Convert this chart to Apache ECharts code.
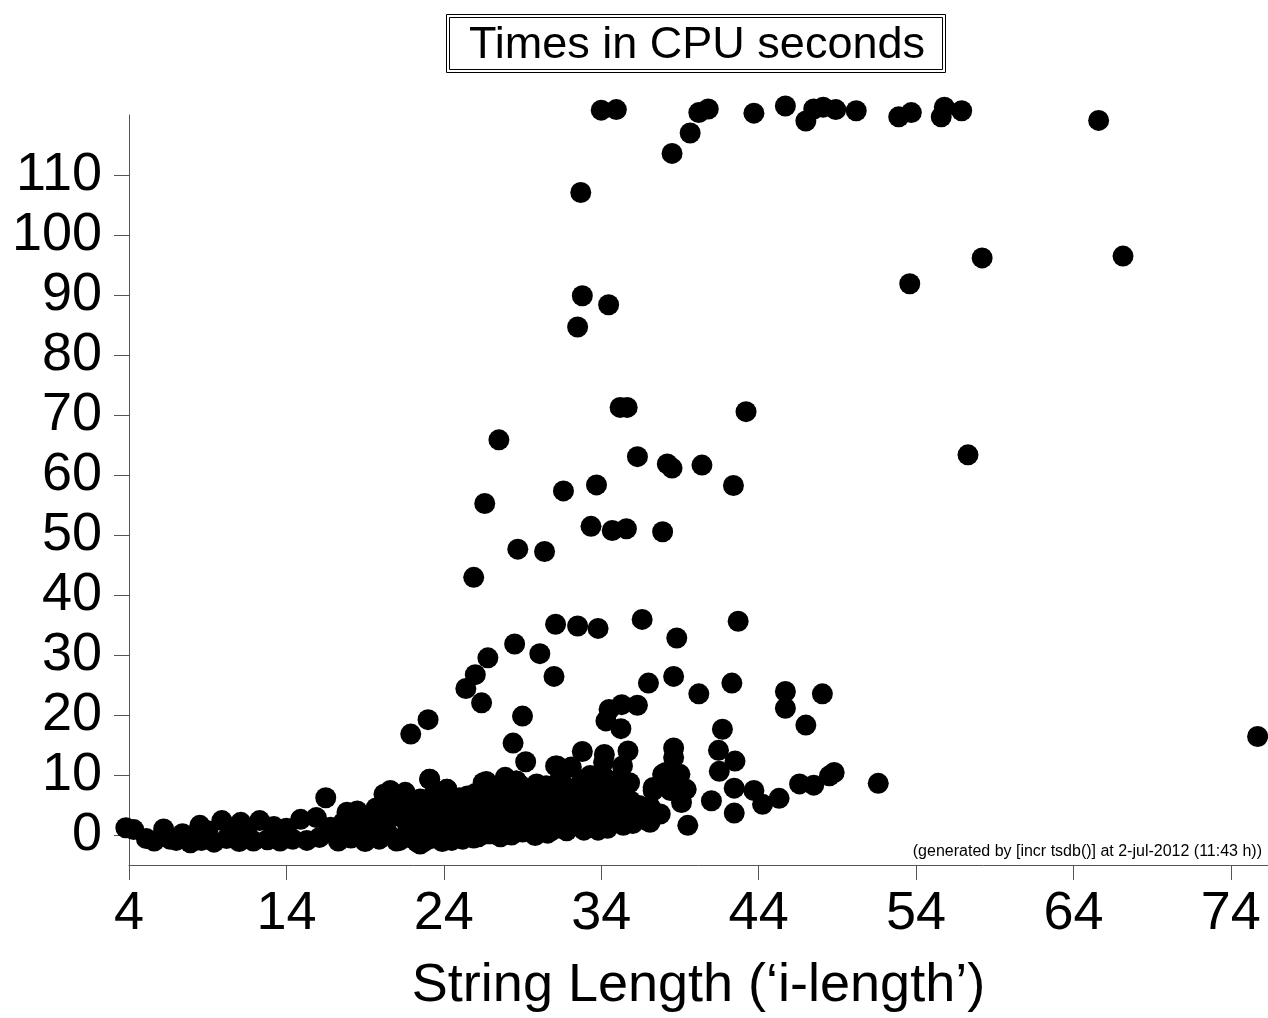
<!DOCTYPE html>
<html>
<head>
<meta charset="utf-8">
<script src="https://cdn.jsdelivr.net/npm/echarts@6/dist/echarts.min.js"></script>
<style>
html,body{margin:0;padding:0;background:#fff;}
#chart{width:1268px;height:1018px;}
</style>
</head>
<body>
<div id="chart"></div>
<script>
// ---- data: [string length, CPU seconds] ----
const shortStrings = [
  [3.8,1.3],[4.3,1.0],[5.1,-0.5],[5.6,-0.9],[6.2,1.1],[6.6,-0.6],[7.0,-0.8],[7.4,0.3],
  [7.9,-1.2],[8.5,1.7],[8.6,-0.8],[9.0,0.8],[9.4,-1.1],[9.9,2.5],[10.2,-0.5],[10.6,0.9],
  [11.1,2.2],[11.0,-1.0],[11.5,0.4],[11.9,-0.9],[12.3,2.5],[12.8,-0.7],[13.2,1.5],[13.6,-0.9],
  [14.0,1.2],[14.4,-0.6],[14.9,2.7],[15.3,-0.8],[15.9,3.0],[16.1,-0.3],[16.5,6.3],[16.8,1.4],
  [17.0,0.5],[17.3,-0.9],[17.6,2.2],[17.85,3.9],[18.1,-0.4],[18.5,4.1],[18.7,1.2],[19.0,-1.0],
  [19.2,2.8],[19.5,0.3],[19.7,4.6],[19.9,-0.6]
];
const mediumStrings = [
  [20.2,6.9],[20.3,1.8],[20.6,7.5],[20.8,3.2],[21.0,-0.9],[21.2,5.0],[21.55,7.2],[21.7,0.8],
  [21.9,2.6],[22.1,4.3],[22.3,-1.1],[22.5,6.1],[22.7,1.5],[22.9,3.4],[23.1,9.4],[23.2,-0.5],
  [23.4,5.4],[23.6,2.1],[23.8,7.1],[24.0,0.2],[24.2,7.7],[24.3,3.8],[24.5,-0.8],[24.7,5.8],
  [24.9,1.9],[25.1,4.0],[25.3,0.0],[25.5,6.6],[25.7,2.8],[25.9,-0.4],[26.1,4.9],[26.3,1.2],
  [26.5,8.8],[26.6,3.2],[26.8,0.3],[27.0,6.2],[27.2,2.0],[27.4,4.4],[27.6,-0.2],[27.9,9.7],
  [28.0,7.2],[28.2,1.7],[28.4,3.6],[28.6,9.1],[28.8,5.6],[29.0,0.6],[29.2,2.7],[29.4,6.9],
  [29.6,4.1],[29.9,8.6],[30.0,1.0],[30.2,3.2],[30.4,5.2],[30.6,0.4],[30.8,7.4],[31.0,2.3],
  [31.2,11.6],[31.3,4.8],[31.5,1.8],[31.7,8.2],[31.9,3.0],[32.1,11.4],[32.2,6.0],[32.5,1.6],
  [32.6,4.2],[32.8,9.3],[33.0,2.5],[33.3,10.0],[33.5,5.2],[33.7,1.8],[33.9,7.4],[34.15,12.2],
  [34.3,3.4],[34.5,2.0],[34.8,8.0],[35.0,4.6],[35.2,6.4],[35.6,2.5],[35.85,5.8],[36.2,3.8],
  [36.9,2.5],[37.1,4.8],[37.3,7.5],[37.75,3.6],[38.1,10.5],[38.4,7.5],[39.0,10.2],[39.1,5.5],
  [39.4,7.7],[39.5,1.7],[41.0,5.8],[42.45,3.75],[42.45,7.9],[43.7,7.5],[44.25,5.2],[45.3,6.2],
  [46.6,8.6],[47.5,8.4],[48.5,9.95],[48.8,10.5],[51.6,8.7],[41.5,10.7],[41.45,14.2],[42.5,12.4],
  [41.7,17.7],[40.2,23.6],[42.3,25.4],[45.7,24.0],[45.7,21.2],[48.05,23.6],[47.0,18.4],[42.7,35.7],
  [21.2,-0.8],[22.5,-1.4],[25.3,0.3],[27.0,0.3],[29.9,0.3],[31.2,1.4],[33.5,1.4],[37.1,2.2]
];
const mediumStringsExtra = [
  [20.5,0.2],[20.9,4.8],[21.4,2.9],[21.8,-0.3],[22.0,5.9],[22.2,1.2],[22.6,3.7],[22.8,-0.9],
  [23.0,2.2],[23.3,6.6],[23.5,0.6],[23.7,4.2],[23.9,-1.0],[24.1,2.6],[24.4,5.1],[24.6,1.0],
  [24.8,3.3],[25.0,6.3],[25.2,-0.6],[25.4,2.0],[25.6,4.6],[25.8,1.3],[26.0,7.0],[26.2,-0.2],
  [26.4,3.0],[26.7,5.5],[26.9,1.8],[27.1,3.9],[27.3,7.9],[27.5,0.9],[27.7,5.0],[27.8,2.5],
  [28.1,4.7],[28.3,0.1],[28.5,6.4],[28.7,2.9],[28.9,8.3],[29.1,1.4],[29.3,4.9],[29.5,2.1],
  [29.7,7.6],[29.8,0.0],[30.1,5.9],[30.3,1.9],[30.5,8.3],[30.7,3.9],[30.9,0.9],[31.1,5.6],
  [31.4,9.6],[31.6,3.5],[31.8,0.8],[32.0,6.8],[32.3,2.8],[32.7,7.0],[32.9,0.9],[33.1,4.8],
  [33.4,8.1],[33.6,3.1],[33.8,0.9],[34.0,5.6],[34.2,9.7],[34.4,1.2],[34.6,6.2],[34.9,2.9],
  [35.1,9.4],[35.4,1.7],[35.5,4.2],[35.8,8.8],[36.0,2.0],[36.4,5.0]
];
const slowRuns = [
  [25.9,43.0],[31.1,35.2],[32.5,34.9],[33.8,34.5],[36.6,36.0],[38.8,32.9],[28.5,31.9],[30.1,30.3],
  [26.8,29.6],[26.0,26.8],[31.0,26.5],[25.4,24.5],[26.4,22.1],[38.6,26.5],[37.0,25.4],[23.0,19.3],
  [21.9,16.9],[29.0,19.9],[28.4,15.4],[29.2,12.3],[34.5,21.0],[35.3,21.8],[36.3,21.7],[34.3,19.1],
  [35.25,17.8],[32.8,14.0],[34.2,13.5],[35.7,14.1],[31.1,11.6],[35.35,11.6],[38.6,14.6],[38.6,13.0],
  [23.1,9.4],[24.2,7.7],[26.7,9.0],[28.6,9.1],[37.9,10.2],[37.3,8.0],[75.7,16.5]
];
const verySlowRuns = [
  [32.7,107.1],[32.8,89.9],[34.47,88.4],[32.5,84.7],[35.2,71.3],[35.65,71.3],[43.2,70.6],[27.5,65.9],
  [36.3,63.1],[38.2,61.9],[38.5,61.2],[40.4,61.7],[42.4,58.3],[26.6,55.3],[31.6,57.4],[33.7,58.4],
  [33.35,51.5],[34.7,50.8],[35.6,51.1],[37.9,50.6],[28.7,47.7],[30.4,47.3],
  [53.6,91.9],[58.2,96.2],[67.15,96.5],[57.3,63.4]
];
const timeouts = [
  [34.0,120.8],[34.96,120.9],[38.5,113.6],[39.65,117.0],[40.2,120.4],[40.8,121.0],[43.7,120.3],
  [45.7,121.5],[47.0,119.0],[47.5,121.0],[48.1,121.3],[48.9,120.9],[50.2,120.7],[52.9,119.7],
  [53.7,120.4],[55.6,119.7],[55.8,121.3],[56.9,120.7],[65.6,119.1]
];
const xTicks = [4,14,24,34,44,54,64,74];
const yTicks = [0,10,20,30,40,50,60,70,80,90,100,110];

const allPoints = shortStrings.concat(mediumStrings, mediumStringsExtra, slowRuns, verySlowRuns, timeouts);

const chart = echarts.init(document.getElementById('chart'), null, {renderer:'canvas'});
const FONT = '"Liberation Sans", Helvetica, Arial, sans-serif';
const axisColor = '#555';
chart.setOption({
  animation: false,
  backgroundColor: '#fff',
  title: {
    text: 'Times in CPU seconds',
    left: 464,
    top: 18,
    textStyle: {fontFamily: FONT, fontSize: 45, fontWeight: 'normal', color: '#000'}
  },
  graphic: [
    {type:'rect', shape:{x:446.5, y:14.5, width:499, height:58}, style:{fill:'none', stroke:'#000', lineWidth:1}},
    {type:'rect', shape:{x:449.5, y:17.5, width:493, height:52}, style:{fill:'none', stroke:'#000', lineWidth:1}},
    {type:'text', right: 6, top: 844, style:{text:'(generated by [incr tsdb()] at 2-jul-2012 (11:43 h))', font:'16px ' + FONT, fill:'#000'}}
  ],
  grid: {left: 129, right: 0, top: 115, bottom: 150, containLabel: false},
  xAxis: {
    type: 'value', min: 4, max: 76.36,
    name: 'String Length (\u2018i-length\u2019)',
    nameLocation: 'middle', nameGap: 94,
    nameTextStyle: {fontFamily: FONT, fontSize: 54, color: '#000'},
    axisLine: {show: true, onZero: false, lineStyle: {color: axisColor, width: 1}},
    axisTick: {show: true, length: 15, lineStyle: {color: axisColor, width: 1}, customValues: xTicks},
    axisLabel: {fontFamily: FONT, fontSize: 54, color: '#000', margin: 22, customValues: xTicks},
    splitLine: {show: false}
  },
  yAxis: {
    type: 'value', min: -4.9, max: 120,
    axisLine: {show: true, onZero: false, lineStyle: {color: axisColor, width: 1}},
    axisTick: {show: true, length: 15, lineStyle: {color: axisColor, width: 1}, customValues: yTicks},
    axisLabel: {fontFamily: FONT, fontSize: 54, color: '#000', margin: 27, customValues: yTicks},
    splitLine: {show: false}
  },
  series: [{
    type: 'scatter',
    data: allPoints,
    symbol: 'circle',
    symbolSize: 21,
    clip: false,
    silent: true,
    itemStyle: {color: '#000', opacity: 1}
  }]
});
</script>
</body>
</html>
